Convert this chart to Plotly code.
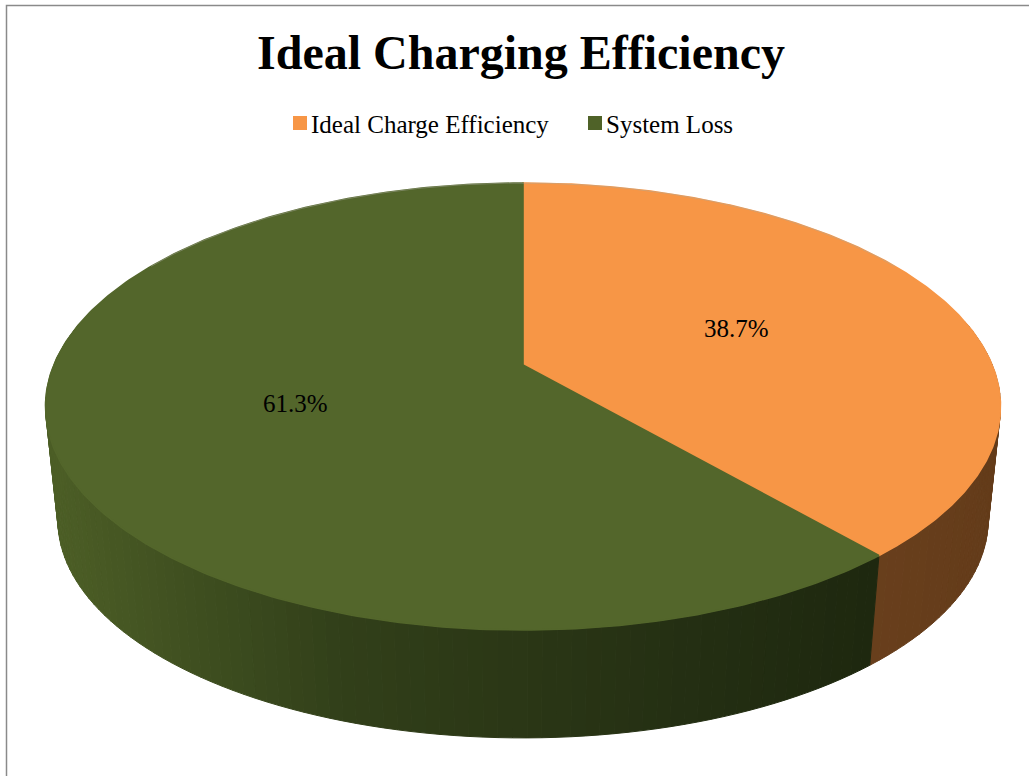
"""
3D-style pie: ideal charging efficiency vs system loss
"""
import numpy as np
import plotly.graph_objects as go

# chart data
labels = ["Ideal Charge Efficiency", "System Loss"]
values = [38.7, 61.3]
top_colors = ["#F79646", "#53662B"]
legend_colors = ["#F79646", "#4F6228"]
chart_title = "Ideal Charging Efficiency"

W, H = 1029, 776
FONT = "Liberation Serif, Times New Roman, serif"

# perspective disc geometry, in pixel units (y grows downward)
CX, CY = 523.0, 365.0
A, B, C = 469.2, 215.8, 0.1857
VP_X, VP_Y = 523.0, 4780.0   # vanishing point of the vertical edges
F = 0.974                    # bottom rim scale toward the vanishing point
STEP = 1.5


def top_pt(theta, r=1.0):
    # theta in degrees, clockwise from 12 o'clock
    t = np.radians(theta)
    u = r * np.sin(t)
    v = -r * np.cos(t)
    w = 1 - C * v
    return CX + A * u / w, CY + B * v / w


def bottom_pt(theta):
    x, y = top_pt(theta)
    return VP_X + (x - VP_X) * F, VP_Y + (y - VP_Y) * F


def side_color(i, x):
    if i == 0:
        r = np.interp(x, [850, 1000], [106, 100])
        g = np.interp(x, [850, 1000], [64, 60])
        b = np.interp(x, [850, 1000], [29, 26])
    else:
        xs = [40, 200, 340, 520, 700, 880]
        r = np.interp(x, xs, [78, 63, 50, 43, 36, 30])
        g = np.interp(x, xs, [96, 79, 64, 55, 47, 40])
        b = np.interp(x, xs, [39, 32, 26, 22, 19, 15])
    return f"rgb({int(r)},{int(g)},{int(b)})"


total = sum(values)
bounds = np.concatenate([[0], np.cumsum(values) / total * 360])

fig = go.Figure()

# side walls, drawn as thin strips so the shading can vary
for i in range(len(values)):
    a0, a1 = bounds[i], bounds[i + 1]
    n = max(2, int(np.ceil((a1 - a0) / STEP)))
    angs = np.linspace(a0, a1, n + 1)
    for t0, t1 in zip(angs[:-1], angs[1:]):
        # back part of the wall is hidden by the top face anyway
        if -np.cos(np.radians((t0 + t1) / 2)) < -0.2:
            continue
        p = [top_pt(t0), top_pt(t1), bottom_pt(t1), bottom_pt(t0)]
        xs = [q[0] for q in p] + [p[0][0]]
        ys = [q[1] for q in p] + [p[0][1]]
        col = side_color(i, np.mean(xs[:4]))
        fig.add_trace(go.Scatter(
            x=xs, y=ys, mode="lines", fill="toself",
            fillcolor=col, line=dict(color=col, width=1),
            hoverinfo="skip", showlegend=False,
        ))

# top faces
for i in range(len(values)):
    angs = np.linspace(bounds[i], bounds[i + 1], 300)
    pts = [top_pt(t) for t in angs]
    xs = [CX] + [q[0] for q in pts] + [CX]
    ys = [CY] + [q[1] for q in pts] + [CY]
    fig.add_trace(go.Scatter(
        x=xs, y=ys, mode="lines", fill="toself",
        fillcolor=top_colors[i], line=dict(color=top_colors[i], width=1.6),
        hoverinfo="skip", showlegend=False,
    ))

# faint rim on the far edge
rim = [top_pt(t) for t in np.linspace(-60, 60, 200)]
fig.add_trace(go.Scatter(
    x=[q[0] for q in rim], y=[q[1] for q in rim], mode="lines",
    line=dict(color="rgba(170,170,160,0.45)", width=1),
    hoverinfo="skip", showlegend=False,
))

annotations = [dict(
    x=521, y=52, text=f"<b>{chart_title}</b>", showarrow=False,
    font=dict(family=FONT, size=48, color="black"),
    xanchor="center", yanchor="middle",
)]

# percentage labels at half radius of each slice
for i in range(len(values)):
    mx, my = top_pt((bounds[i] + bounds[i + 1]) / 2, r=0.5)
    annotations.append(dict(
        x=mx, y=my, text=f"{values[i] / total * 100:.1f}%", showarrow=False,
        font=dict(family=FONT, size=25, color="black"),
        xanchor="center", yanchor="middle",
    ))

# legend
legend_x = [293, 588]
shapes = [dict(type="rect", x0=6.5, y0=5.5, x1=1040, y1=790,
               line=dict(color="#8A8A8A", width=1.5), layer="above")]
for i, lab in enumerate(labels):
    shapes.append(dict(type="rect", x0=legend_x[i], x1=legend_x[i] + 14,
                       y0=116, y1=130, fillcolor=legend_colors[i],
                       line=dict(width=0)))
    annotations.append(dict(
        x=legend_x[i] + 16, y=124, text=lab, showarrow=False,
        font=dict(family=FONT, size=25, color="black"),
        xanchor="left", yanchor="middle",
    ))

fig.update_layout(
    width=W, height=H,
    margin=dict(l=0, r=0, t=0, b=0),
    paper_bgcolor="white", plot_bgcolor="white",
    xaxis=dict(range=[0, W], visible=False, fixedrange=True),
    yaxis=dict(range=[H, 0], visible=False, fixedrange=True),
    annotations=annotations, shapes=shapes,
)

# drop the default body margin so the figure fills the window exactly
fig.write_html("out.html", config={"displayModeBar": False},
               post_script="document.body.style.margin = '0';")
